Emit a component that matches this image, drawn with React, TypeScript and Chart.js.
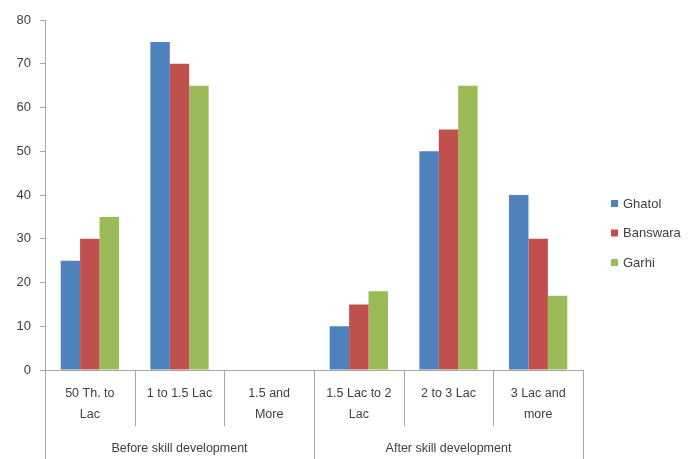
import React, { useEffect, useRef } from "react";
import { Chart, registerables } from "chart.js";

Chart.register(...registerables);

const categories: string[][] = [
  ["50 Th. to", "Lac"],
  ["1 to 1.5 Lac"],
  ["1.5 and", "More"],
  ["1.5 Lac to 2", "Lac"],
  ["2 to 3 Lac"],
  ["3 Lac and", "more"],
];
const groups = ["Before skill development", "After skill development"];
const groupSizes = [3, 3];
const seriesNames = ["Ghatol", "Banswara", "Garhi"];
const ghatol = [25, 75, 0, 10, 50, 40];
const banswara = [30, 70, 0, 15, 55, 30];
const garhi = [35, 65, 0, 18, 65, 17];
const colors = ["#4F81BD", "#C0504D", "#9BBB59"];
const yTicks = [0, 10, 20, 30, 40, 50, 60, 70, 80];

const FONT = "'Liberation Sans', Arial, sans-serif";
const TEXT = "#404040";
const AXIS = "#A6A6A6";

const labelsPlugin = {
  id: "twoLevelLabels",
  afterDraw(chart: any) {
    const ctx = chart.ctx;
    const xs = chart.scales.x;
    const area = chart.chartArea;
    const n = categories.length;
    const catW = (area.right - area.left) / n;
    ctx.save();
    ctx.strokeStyle = AXIS;
    ctx.lineWidth = 1;
    const boundaries = new Set<number>([0]);
    let acc = 0;
    groupSizes.forEach((s) => {
      acc += s;
      boundaries.add(acc);
    });
    for (let i = 0; i <= n; i++) {
      const x = Math.round(xs.getPixelForValue(i) - catW / 2) + 0.5;
      const len = boundaries.has(i) ? chart.height - area.bottom : 56;
      ctx.beginPath();
      ctx.moveTo(x, area.bottom);
      ctx.lineTo(x, area.bottom + len);
      ctx.stroke();
    }
    ctx.fillStyle = TEXT;
    ctx.font = `12.5px ${FONT}`;
    ctx.textAlign = "center";
    ctx.textBaseline = "middle";
    categories.forEach((lines, i) => {
      const cx = xs.getPixelForValue(i);
      lines.forEach((t, j) => {
        ctx.fillText(t, cx, area.bottom + 24 + j * 21);
      });
    });
    let start = 0;
    groups.forEach((g, gi) => {
      const s = groupSizes[gi];
      const x0 = xs.getPixelForValue(start) - catW / 2;
      const x1 = xs.getPixelForValue(start + s - 1) + catW / 2;
      ctx.fillText(g, (x0 + x1) / 2, area.bottom + 79);
      start += s;
    });
    ctx.textAlign = "left";
    ctx.font = `13px ${FONT}`;
    chart.data.datasets.forEach((ds: any, i: number) => {
      const y = 204 + i * 29.5;
      ctx.fillStyle = ds.backgroundColor;
      ctx.fillRect(611, y - 4, 7, 7);
      ctx.fillStyle = TEXT;
      ctx.fillText(ds.label, 623, y);
    });
    ctx.restore();
  },
};

export default function App() {
  const ref = useRef<HTMLCanvasElement>(null);
  useEffect(() => {
    if (!ref.current) return;
    const chart = new Chart(ref.current, {
      type: "bar",
      data: {
        labels: categories.map((c) => c.join(" ")),
        datasets: [ghatol, banswara, garhi].map((d, i) => ({
          label: seriesNames[i],
          data: d,
          backgroundColor: colors[i],
          borderWidth: 0,
        })),
      },
      options: {
        responsive: false,
        animation: false,
        layout: { padding: { top: 20, right: 117, left: 0, bottom: 0 } },
        plugins: { legend: { display: false }, tooltip: { enabled: false } },
        datasets: { bar: { categoryPercentage: 0.65, barPercentage: 1 } },
        scales: {
          x: {
            grid: { display: false },
            border: { display: true, color: AXIS },
            ticks: { display: false },
            afterFit: (s: any) => {
              s.height = 89;
            },
          },
          y: {
            min: 0,
            max: 80,
            afterBuildTicks: (s: any) => {
              s.ticks = yTicks.map((v) => ({ value: v }));
            },
            grid: { drawOnChartArea: false, drawTicks: true, tickLength: 5, color: AXIS },
            border: { display: true, color: AXIS },
            ticks: { color: TEXT, font: { family: FONT, size: 13 }, padding: 9 },
            afterFit: (s: any) => {
              s.width = 45;
            },
          },
        },
      },
      plugins: [labelsPlugin],
    });
    return () => chart.destroy();
  }, []);
  return (
    <div style={{ position: "fixed", left: 0, top: 0, width: 700, height: 459, background: "#fff" }}>
      <canvas ref={ref} width={700} height={459} />
    </div>
  );
}
